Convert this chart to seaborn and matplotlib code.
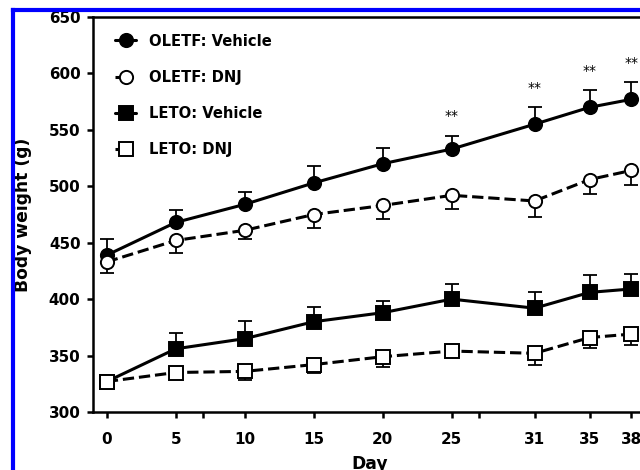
import numpy as np
import pandas as pd
import matplotlib
matplotlib.use("Agg")
import matplotlib.pyplot as plt
import seaborn as sns
from matplotlib.lines import Line2D

# ---------------- data ----------------
days = [0, 5, 10, 15, 20, 25, 31, 35, 38]
x_ticks = [0, 5, 7, 10, 15, 20, 25, 27, 31, 35, 38]
x_tick_labels = ["0", "5", "", "10", "15", "20", "25", "", "31", "35", "38"]
y_ticks = [300, 350, 400, 450, 500, 550, 600, 650]

series_names = ["OLETF: Vehicle", "OLETF: DNJ", "LETO: Vehicle", "LETO: DNJ"]
oletf_vehicle = [439, 468, 484, 503, 520, 533, 555, 570, 577]
oletf_vehicle_err = [14, 11, 11, 15, 14, 12, 15, 15, 15]
oletf_dnj = [433, 452, 461, 475, 483, 492, 487, 506, 514]
oletf_dnj_err = [10, 11, 8, 12, 12, 12, 14, 13, 13]
leto_vehicle = [327, 356, 365, 380, 388, 400, 392, 406, 409]
leto_vehicle_err = [2, 14, 16, 13, 10, 13, 14, 15, 13]
leto_dnj = [327, 335, 336, 342, 349, 354, 352, 366, 369]
leto_dnj_err = [2, 3, 8, 7, 9, 3, 10, 9, 10]
sig_days = [25, 31, 35, 38]
sig_text = "**"
x_label = "Day"
y_label = "Body weight (g)"

# ---------------- style ----------------
sns.set_theme(style="ticks")
plt.rcParams["font.family"] = ["DejaVu Sans"]
plt.rcParams["font.weight"] = "bold"
plt.rcParams["text.color"] = "black"
plt.rcParams["axes.labelcolor"] = "black"
plt.rcParams["xtick.color"] = "black"
plt.rcParams["ytick.color"] = "black"

fig = plt.figure(figsize=(6.4, 4.7), dpi=100)
ax = fig.add_axes([93 / 640, 58 / 470, 554 / 640, 395 / 470])

values = [oletf_vehicle, oletf_dnj, leto_vehicle, leto_dnj]
errors = [oletf_vehicle_err, oletf_dnj_err, leto_vehicle_err, leto_dnj_err]
markers = ["o", "o", "s", "s"]
faces = ["black", "white", "black", "white"]
dashed = [False, True, False, True]
upward = [True, False, True, False]

rows = []
for name, vals in zip(series_names, values):
    for d, v in zip(days, vals):
        rows.append({"Day": d, "Weight": v, "Group": name})
df = pd.DataFrame(rows)

lw = 2.2
for i, name in enumerate(series_names):
    sub = df[df["Group"] == name]
    err = np.array(errors[i])
    zeros = np.zeros_like(err)
    yerr = [zeros, err] if upward[i] else [err, zeros]
    ax.errorbar(sub["Day"], sub["Weight"], yerr=yerr, fmt="none",
                ecolor="black", elinewidth=1.3, capsize=4.7, capthick=1.3,
                zorder=2)
    sns.lineplot(data=sub, x="Day", y="Weight", ax=ax, color="black",
                 linewidth=lw, marker=markers[i], markersize=9.5,
                 markerfacecolor=faces[i], markeredgecolor="black",
                 markeredgewidth=1.4, legend=False, zorder=3,
                 dashes=(2.2, 1.4) if dashed[i] else "",
                 linestyle="--" if dashed[i] else "-")

# significance marks
ov = dict(zip(days, oletf_vehicle))
oe = dict(zip(days, oletf_vehicle_err))
for d in sig_days:
    ax.annotate(sig_text, xy=(d, ov[d] + oe[d]), xytext=(0, 9),
                textcoords="offset points", ha="center", va="bottom",
                fontsize=10, fontweight="normal", color="black",
                annotation_clip=False)

ax.set_xlim(-1.0, 39.15)
ax.set_ylim(300, 650)
ax.set_xticks(x_ticks)
ax.set_xticklabels(x_tick_labels)
ax.set_yticks(y_ticks)
ax.tick_params(axis="both", direction="out", length=4.5, width=1.8,
               labelsize=10.9, colors="black")
ax.tick_params(axis="x", pad=10)
ax.tick_params(axis="y", pad=4.5)
for lab in ax.get_xticklabels() + ax.get_yticklabels():
    lab.set_fontweight("bold")
for s in ax.spines.values():
    s.set_linewidth(1.8)
    s.set_color("black")

ax.set_xlabel(x_label, fontsize=12.3, fontweight="bold", color="black")
ax.set_ylabel(y_label, fontsize=12.3, fontweight="bold", color="black")
ax.xaxis.set_label_coords(0.5, -0.109)
ax.yaxis.set_label_coords(-0.110, 0.5)

handles = []
for i, name in enumerate(series_names):
    handles.append(Line2D([], [], color="black", linewidth=lw,
                          linestyle=(0, (2.2, 1.4)) if dashed[i] else "-",
                          marker=markers[i], markersize=9.5,
                          markerfacecolor=faces[i], markeredgecolor="black",
                          markeredgewidth=1.4))
leg = ax.legend(handles, series_names, loc="upper left", frameon=False,
                bbox_to_anchor=(0.0, 1.014), borderaxespad=0.5, borderpad=1.0,
                handlelength=1.45, handletextpad=0.85, labelspacing=1.44,
                prop={"weight": "bold", "size": 10.6})
for t in leg.get_texts():
    t.set_color("black")

# blue frame around the picture
fig.add_artist(Line2D([12.5 / 640, 12.5 / 640], [0, 1 - 9.5 / 470],
                      transform=fig.transFigure, color="#0000ff",
                      linewidth=3.0, solid_capstyle="projecting"))
fig.add_artist(Line2D([12.5 / 640, 1], [1 - 9.5 / 470, 1 - 9.5 / 470],
                      transform=fig.transFigure, color="#0000ff",
                      linewidth=3.0, solid_capstyle="projecting"))

fig.savefig("out.png", dpi=100)
